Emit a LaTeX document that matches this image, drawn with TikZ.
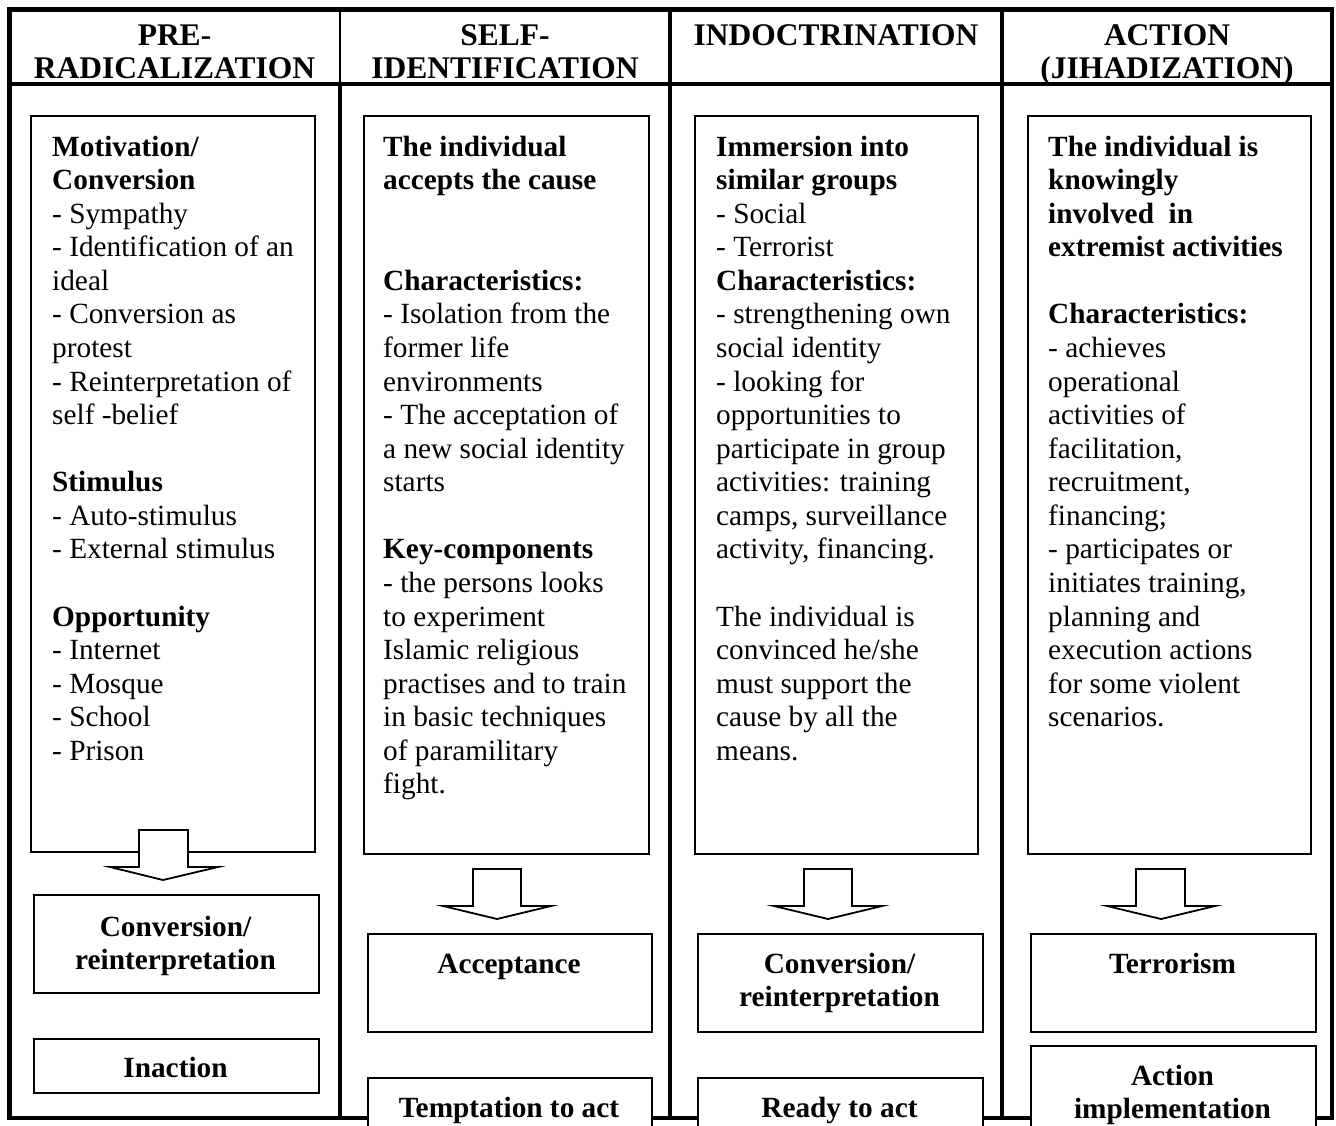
\documentclass[tikz,border=0pt]{standalone}
\usepackage{fontspec}
\setmainfont{Liberation Serif}
\begin{document}
\begin{tikzpicture}[x=1pt,y=-1pt,
  outer/.style={line width=4.5pt},
  thinline/.style={line width=2pt},
  box/.style={draw,line width=1.8pt,fill=white,inner sep=0pt,anchor=north west},
  body/.style={font=\fontsize{29.3}{33.56}\selectfont,align=left,inner sep=0pt,anchor=north west},
  headtxt/.style={font=\fontsize{31.5}{33}\selectfont\bfseries,align=center,inner sep=0pt,anchor=north},
  lab/.style={font=\fontsize{29.3}{33.56}\selectfont\bfseries,align=center,inner sep=0pt,anchor=north},
  blockarrow/.style={draw,line width=1.8pt,fill=white,line join=miter}
]
\useasboundingbox (0,0) rectangle (1336,1126);
\clip (0,0) rectangle (1336,1126);

% table grid
\draw[outer] (9.5,9.5) rectangle (1332,1118);
\draw[outer] (9.5,84) -- (1332,84);
\draw[thinline] (340,9.5) -- (340,84);
\draw[outer] (340,84) -- (340,1118);
\draw[outer] (670,9.5) -- (670,1118);
\draw[outer] (1002,9.5) -- (1002,1118);

% headers
\node[headtxt] (h1) at (174.5,21.9) {\strut PRE-\\RADICALIZATION};
\node[headtxt] (h2) at (505,21.9) {\strut SELF-\\IDENTIFICATION};
\node[headtxt] (h3) at (836,21.9) {\strut INDOCTRINATION};
\node[headtxt] (h4) at (1167,21.9) {\strut ACTION\\(JIHADIZATION)};

% main boxes
\node[box,minimum width=284pt,minimum height=736pt] (m1) at (30,115) {};
\node[box,minimum width=285pt,minimum height=738pt] (m2) at (363,115) {};
\node[box,minimum width=283pt,minimum height=738pt] (m3) at (694,115) {};
\node[box,minimum width=283pt,minimum height=738pt] (m4) at (1027,115) {};

\node[body] (t1) at (52,132.5) {\strut\textbf{Motivation/}\\
\textbf{Conversion}\\
- Sympathy\\
- Identification of an\\
ideal\\
- Conversion as\\
protest\\
- Reinterpretation of\\
self -belief\\[33.56pt]
\textbf{Stimulus}\\
- Auto-stimulus\\
- External stimulus\\[33.56pt]
\textbf{Opportunity}\\
- Internet\\
- Mosque\\
- School\\
- Prison};

\node[body] (t2) at (383,132.5) {\strut\textbf{The individual}\\
\textbf{accepts the cause}\\[67.12pt]
\textbf{Characteristics:}\\
- Isolation from the\\
former life\\
environments\\
- The acceptation of\\
a new social identity\\
starts\\[33.56pt]
\textbf{Key-components}\\
- the persons looks\\
to experiment\\
Islamic religious\\
practises and to train\\
in basic techniques\\
of paramilitary\\
fight.};

\node[body] (t3) at (716,132.5) {\strut\textbf{Immersion into}\\
\textbf{similar groups}\\
- Social\\
- Terrorist\\
\textbf{Characteristics:}\\
- strengthening own\\
social identity\\
- looking for\\
opportunities to\\
participate in group\\
activities: training\\
camps, surveillance\\
activity, financing.\\[33.56pt]
The individual is\\
convinced he/she\\
must support the\\
cause by all the\\
means.};

\node[body] (t4) at (1048,132.5) {\strut\textbf{The individual is}\\
\textbf{knowingly}\\
\textbf{involved\ \ in}\\
\textbf{extremist activities}\\[33.56pt]
\textbf{Characteristics:}\\
- achieves\\
operational\\
activities of\\
facilitation,\\
recruitment,\\
financing;\\
- participates or\\
initiates training,\\
planning and\\
execution actions\\
for some violent\\
scenarios.};

% block arrows
\draw[blockarrow] (139,830) -- (139,867) -- (110,867) -- (163,880) -- (218,867) -- (188,867) -- (188,830) -- cycle;
\draw[blockarrow] (473,869) -- (473,906) -- (443,906) -- (497,919) -- (551,906) -- (521,906) -- (521,869) -- cycle;
\draw[blockarrow] (804,869) -- (804,906) -- (774,906) -- (828,919) -- (882,906) -- (852,906) -- (852,869) -- cycle;
\draw[blockarrow] (1136,869) -- (1136,906) -- (1107,906) -- (1161,919) -- (1215,906) -- (1185,906) -- (1185,869) -- cycle;

% outcome boxes
\node[box,minimum width=285pt,minimum height=98pt] (c1a) at (33,894) {};
\node[box,minimum width=285pt,minimum height=54pt] (c1b) at (33,1038) {};
\node[box,minimum width=284pt,minimum height=98pt] (c2a) at (367,933) {};
\node[box,minimum width=284pt,minimum height=80pt] (c2b) at (367,1077) {};
\node[box,minimum width=285pt,minimum height=98pt] (c3a) at (697,933) {};
\node[box,minimum width=285pt,minimum height=80pt] (c3b) at (697,1077) {};
\node[box,minimum width=285pt,minimum height=98pt] (c4a) at (1030,933) {};
\node[box,minimum width=285pt,minimum height=110pt] (c4b) at (1030,1045) {};

\node[lab] (l1a) at (175.5,912.5) {\strut Conversion/\\reinterpretation};
\node[lab] (l1b) at (175.5,1053.5) {\strut Inaction};
\node[lab] (l2a) at (509,949.5) {\strut Acceptance};
\node[lab] (l2b) at (509,1093.5) {\strut Temptation to act};
\node[lab] (l3a) at (839.5,949.5) {\strut Conversion/\\reinterpretation};
\node[lab] (l3b) at (839.5,1093.5) {\strut Ready to act};
\node[lab] (l4a) at (1172.5,949.5) {\strut Terrorism};
\node[lab] (l4b) at (1172.5,1061.5) {\strut Action\\implementation};
\end{tikzpicture}
\end{document}
